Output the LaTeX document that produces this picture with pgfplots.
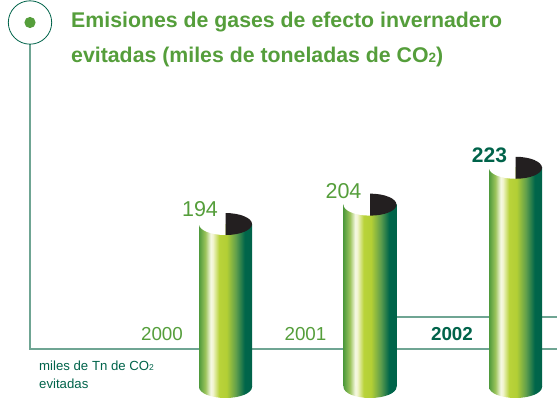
\documentclass[border=0pt]{standalone}
\usepackage{pgfplots}
\usepackage{pgfplotstable}
\pgfplotsset{compat=1.18}
\usepackage{fontspec}
\setmainfont{Liberation Sans}
\definecolor{tgreen}{HTML}{559E3B}
\definecolor{dgreen}{HTML}{00634A}
\definecolor{lgreen}{HTML}{6FA593}
\definecolor{cdark}{HTML}{231F20}
\definecolor{cA}{HTML}{4F9A3C}
\definecolor{cB}{HTML}{9CC45C}
\definecolor{cC}{HTML}{F6F8E4}
\definecolor{cD}{HTML}{F2F5D0}
\definecolor{cE}{HTML}{B9D33A}
\definecolor{cF}{HTML}{B3CF35}
\definecolor{cG}{HTML}{5F9E4C}
\definecolor{cH}{HTML}{00664A}
\pgfdeclarehorizontalshading{cyl}{100bp}{
 color(0bp)=(cA);color(25bp)=(cA);
 color(31bp)=(cB);color(36bp)=(cC);color(38bp)=(cD);
 color(44bp)=(cE);color(51bp)=(cF);color(60bp)=(cG);
 color(68bp)=(cH);color(75bp)=(dgreen);color(100bp)=(dgreen)}
\pgfdeclareplotmark{cyltop}{%
  \pgfsetfillcolor{white}%
  \pgfpathmoveto{\pgfpoint{0pt}{11pt}}%
  \pgfpatharc{90}{270}{26.5pt and 11pt}\pgfpathclose\pgfusepath{fill}%
  \pgfsetfillcolor{cdark}%
  \pgfpathmoveto{\pgfpoint{0pt}{11pt}}%
  \pgfpatharc{90}{-90}{26.5pt and 11pt}\pgfpathclose\pgfusepath{fill}%
}
\pgfdeclareplotmark{cylbase}{%
  \pgfpathmoveto{\pgfpoint{-26.5pt}{0.6pt}}%
  \pgfpathlineto{\pgfpoint{-26.5pt}{0pt}}%
  \pgfpatharc{180}{360}{26.5pt and 11pt}%
  \pgfpathlineto{\pgfpoint{26.5pt}{0.6pt}}\pgfpathclose
  \pgfshadepath{cyl}{0}\pgfusepath{discard}%
}
\pgfplotstableread{
x v
225.5 194
}\tA
\pgfplotstableread{
x v
370 204
}\tB
\pgfplotstableread{
x v
515.5 223
}\tC
\pgfplotsset{
 cylbar/.style={ybar, bar width=53pt, bar shift=0pt, draw=none, shading=cyl, shading angle=0, forget plot},
 cylbase/.style={only marks, mark=cylbase, forget plot},
 cyltop/.style={only marks, mark=cyltop, forget plot},
}
\newcommand\cyl[1]{%
  \addplot[cylbar] table[x=x, y expr=\thisrow{v}-110] {#1};
  \addplot[cylbase] table[x=x, y expr=0] {#1};
}
\begin{document}
\begin{tikzpicture}[x=1pt,y=1pt]
\path[use as bounding box] (0,0) rectangle (557,405);
% frame lines
\draw[lgreen,line width=1.3pt] (30,405-44) -- (30,405-349) -- (557,405-349);
\draw[lgreen,line width=1.3pt] (390,405-317) -- (557,405-317);
\draw[dgreen,line width=0.8pt] (30,405-22.5) circle (21.7);
\fill[tgreen] (30,405-22.5) circle (5.6);
\begin{axis}[at={(0,0)},anchor=south west,scale only axis,width=557pt,height=405pt,
  xmin=0,xmax=557,ymin=-9.28,ymax=199.48,hide axis,clip=false,
  /pgf/number format/assume math mode=true]
\cyl{\tA}
\cyl{\tB}
\cyl{\tC}
\addplot[cyltop, point meta=\thisrow{v}, nodes near coords, nodes near coords align={center},
  every node near coord/.style={font=\fontsize{21.5}{22}\selectfont, text=tgreen, xshift=-25.5pt, yshift=15pt}]
  table[x=x, y expr=\thisrow{v}-110] {\tA};
\addplot[cyltop, point meta=\thisrow{v}, nodes near coords, nodes near coords align={center},
  every node near coord/.style={font=\fontsize{21.5}{22}\selectfont, text=tgreen, xshift=-26.5pt, yshift=14pt}]
  table[x=x, y expr=\thisrow{v}-110] {\tB};
\addplot[cyltop, point meta=\thisrow{v}, nodes near coords, nodes near coords align={center},
  every node near coord/.style={font=\fontsize{21}{21}\selectfont\bfseries, text=dgreen, xshift=-26pt, yshift=12pt}]
  table[x=x, y expr=\thisrow{v}-110] {\tC};
\end{axis}
\node[anchor=base west,inner sep=0,font=\fontsize{21.3}{22}\selectfont\bfseries,text=tgreen] at (71,405-27.5) {Emisiones de gases de efecto invernadero};
\node[anchor=base west,inner sep=0,font=\fontsize{21.3}{22}\selectfont\bfseries,text=tgreen] at (71,405-63) {evitadas (miles de toneladas de CO{\fontsize{13.5}{14}\selectfont 2})};
\node[anchor=base,inner sep=0,font=\fontsize{18.8}{19}\selectfont,text=tgreen] at (162,405-340) {2000};
\node[anchor=base,inner sep=0,font=\fontsize{18.8}{19}\selectfont,text=tgreen] at (305.5,405-340) {2001};
\node[anchor=base,inner sep=0,font=\fontsize{18.8}{19}\selectfont\bfseries,text=dgreen] at (452,405-340) {2002};
\node[anchor=base west,inner sep=0,font=\fontsize{13.2}{13}\selectfont,text=dgreen] at (39,405-370.5) {miles de Tn de CO{\fontsize{8.5}{9}\selectfont 2}};
\node[anchor=base west,inner sep=0,font=\fontsize{13.2}{13}\selectfont,text=dgreen] at (39,405-388.5) {evitadas};
\end{tikzpicture}
\end{document}
